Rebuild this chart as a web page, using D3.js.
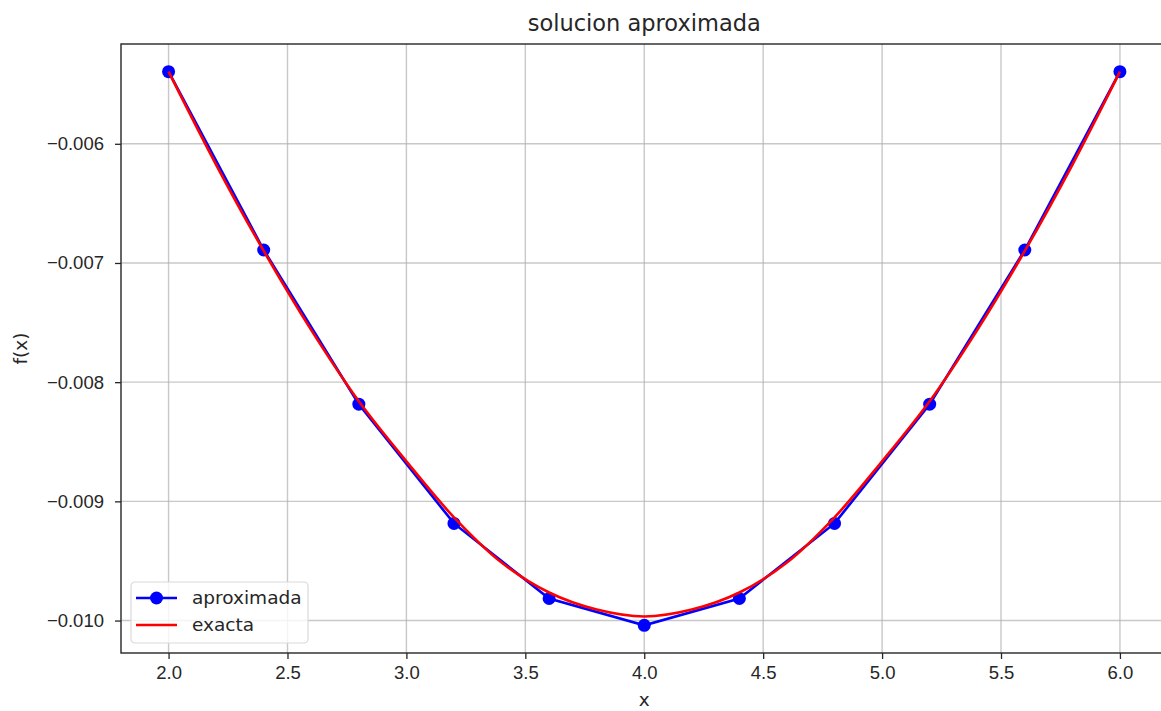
<!DOCTYPE html>
<html>
<head>
<meta charset="utf-8">
<script src="https://cdn.jsdelivr.net/npm/d3@7"></script>
<style>
  body { margin: 0; background: #fff; }
  svg { display: block; font-family: "DejaVu Sans", sans-serif; }
  .tick text { font-size: 18.5px; fill: #262626; }
</style>
</head>
<body>
<div id="chart"></div>
<script>
// aproximada (nodos) and exacta (curva)
const xAprox = [2.0, 2.4, 2.8, 3.2, 3.6, 4.0, 4.4, 4.8, 5.2, 5.6, 6.0];
const yAprox = [-0.005395, -0.006891, -0.008185, -0.009185, -0.009815, -0.01004,
                -0.009815, -0.009185, -0.008185, -0.006891, -0.005395];

const xExacta = [2.0, 2.2, 2.4, 2.6, 2.8, 3.0, 3.2, 3.4, 3.6, 3.8, 4.0,
                 4.2, 4.4, 4.6, 4.8, 5.0, 5.2, 5.4, 5.6, 5.8, 6.0];
const yExacta = [-0.005395, -0.006176, -0.006899, -0.007563, -0.008160, -0.008664,
                 -0.009134, -0.009513, -0.009765, -0.009908, -0.009966,
                 -0.009908, -0.009765, -0.009513, -0.009134, -0.008664,
                 -0.008160, -0.007563, -0.006899, -0.006176, -0.005395];

const xTicks = [2.0, 2.5, 3.0, 3.5, 4.0, 4.5, 5.0, 5.5, 6.0];
const yTicks = [-0.010, -0.009, -0.008, -0.007, -0.006];

const W = 1161, H = 711;
const margin = { top: 44, left: 121, bottom: 58 };
const plotRight = 1167.5;
const plotBottom = H - margin.bottom;

const svg = d3.select('#chart')
    .append('svg')
    .attr('width', W)
    .attr('height', H);

// matplotlib-like 5% padding
const xMin = d3.min(xAprox), xMax = d3.max(xAprox);
const xPad = (xMax - xMin) * 0.05;
const x = d3.scaleLinear()
    .domain([xMin - xPad, xMax + xPad])
    .range([margin.left, plotRight]);

const yLo = d3.min(yAprox.concat(yExacta)), yHi = d3.max(yAprox.concat(yExacta));
const yPad = (yHi - yLo) * 0.05;
const y = d3.scaleLinear()
    .domain([yLo - yPad, yHi + yPad])
    .range([plotBottom, margin.top]);

// grid
svg.append('g')
    .selectAll('line')
    .data(xTicks)
    .enter()
    .append('line')
    .attr('x1', d => x(d)).attr('x2', d => x(d))
    .attr('y1', margin.top).attr('y2', plotBottom)
    .attr('stroke', '#b0b0b0')
    .attr('stroke-opacity', 0.7)
    .attr('stroke-width', 1.4);

svg.append('g')
    .selectAll('line')
    .data(yTicks)
    .enter()
    .append('line')
    .attr('x1', margin.left).attr('x2', plotRight)
    .attr('y1', d => y(d)).attr('y2', d => y(d))
    .attr('stroke', '#b0b0b0')
    .attr('stroke-opacity', 0.7)
    .attr('stroke-width', 1.4);

// axes
const xAxis = svg.append('g')
    .attr('transform', `translate(0, ${plotBottom})`)
    .call(d3.axisBottom(x)
        .tickValues(xTicks)
        .tickFormat(d3.format('.1f'))
        .tickSize(6)
        .tickPadding(7));

const yAxis = svg.append('g')
    .attr('transform', `translate(${margin.left}, 0)`)
    .call(d3.axisLeft(y)
        .tickValues(yTicks)
        .tickFormat(d3.format('.3f'))
        .tickSize(6)
        .tickPadding(11));

[xAxis, yAxis].forEach(g => {
    g.select('.domain').remove();
    g.selectAll('.tick line').attr('stroke', '#262626').attr('stroke-width', 1.3);
});

// frame
svg.append('rect')
    .attr('x', margin.left)
    .attr('y', margin.top)
    .attr('width', plotRight - margin.left)
    .attr('height', plotBottom - margin.top)
    .attr('fill', 'none')
    .attr('stroke', '#262626')
    .attr('stroke-width', 1.4);

// series
const aproxData = xAprox.map((v, i) => ({ x: v, y: yAprox[i] }));
const exactaData = xExacta.map((v, i) => ({ x: v, y: yExacta[i] }));

const line = d3.line()
    .x(d => x(d.x))
    .y(d => y(d.y));

svg.append('path')
    .datum(aproxData)
    .attr('fill', 'none')
    .attr('stroke', '#0000ff')
    .attr('stroke-width', 2.6)
    .attr('d', line);

svg.selectAll('.dot')
    .data(aproxData)
    .enter()
    .append('circle')
    .attr('class', 'dot')
    .attr('cx', d => x(d.x))
    .attr('cy', d => y(d.y))
    .attr('r', 6.5)
    .attr('fill', '#0000ff');

svg.append('path')
    .datum(exactaData)
    .attr('fill', 'none')
    .attr('stroke', '#ff0000')
    .attr('stroke-width', 2.6)
    .attr('d', line.curve(d3.curveCatmullRom));

// labels
svg.append('text')
    .attr('x', (margin.left + plotRight) / 2)
    .attr('y', 31)
    .attr('text-anchor', 'middle')
    .style('font-size', '22.5px')
    .style('fill', '#262626')
    .text('solucion aproximada');

svg.append('text')
    .attr('x', (margin.left + plotRight) / 2)
    .attr('y', 706)
    .attr('text-anchor', 'middle')
    .style('font-size', '18.5px')
    .style('fill', '#262626')
    .text('x');

svg.append('text')
    .attr('transform', `translate(27, ${(margin.top + plotBottom) / 2}) rotate(-90)`)
    .attr('text-anchor', 'middle')
    .style('font-size', '18.5px')
    .style('fill', '#262626')
    .text('f(x)');

// legend
const legend = svg.append('g')
    .attr('transform', 'translate(131, 582)');

legend.append('rect')
    .attr('width', 177)
    .attr('height', 61)
    .attr('rx', 4)
    .attr('fill', '#fff')
    .attr('fill-opacity', 0.8)
    .attr('stroke', '#d9d9d9')
    .attr('stroke-width', 1.2);

const legendItems = [
    { label: 'aproximada', color: '#0000ff', marker: true },
    { label: 'exacta', color: '#ff0000', marker: false }
];

legendItems.forEach((d, i) => {
    const gy = 16 + i * 27;
    legend.append('line')
        .attr('x1', 5).attr('x2', 46)
        .attr('y1', gy).attr('y2', gy)
        .attr('stroke', d.color)
        .attr('stroke-width', 2.6);
    if (d.marker) {
        legend.append('circle')
            .attr('cx', 25.5).attr('cy', gy)
            .attr('r', 6.5)
            .attr('fill', d.color);
    }
    legend.append('text')
        .attr('x', 61)
        .attr('y', gy + 6)
        .style('font-size', '18.5px')
        .style('fill', '#262626')
        .text(d.label);
});
</script>
</body>
</html>
